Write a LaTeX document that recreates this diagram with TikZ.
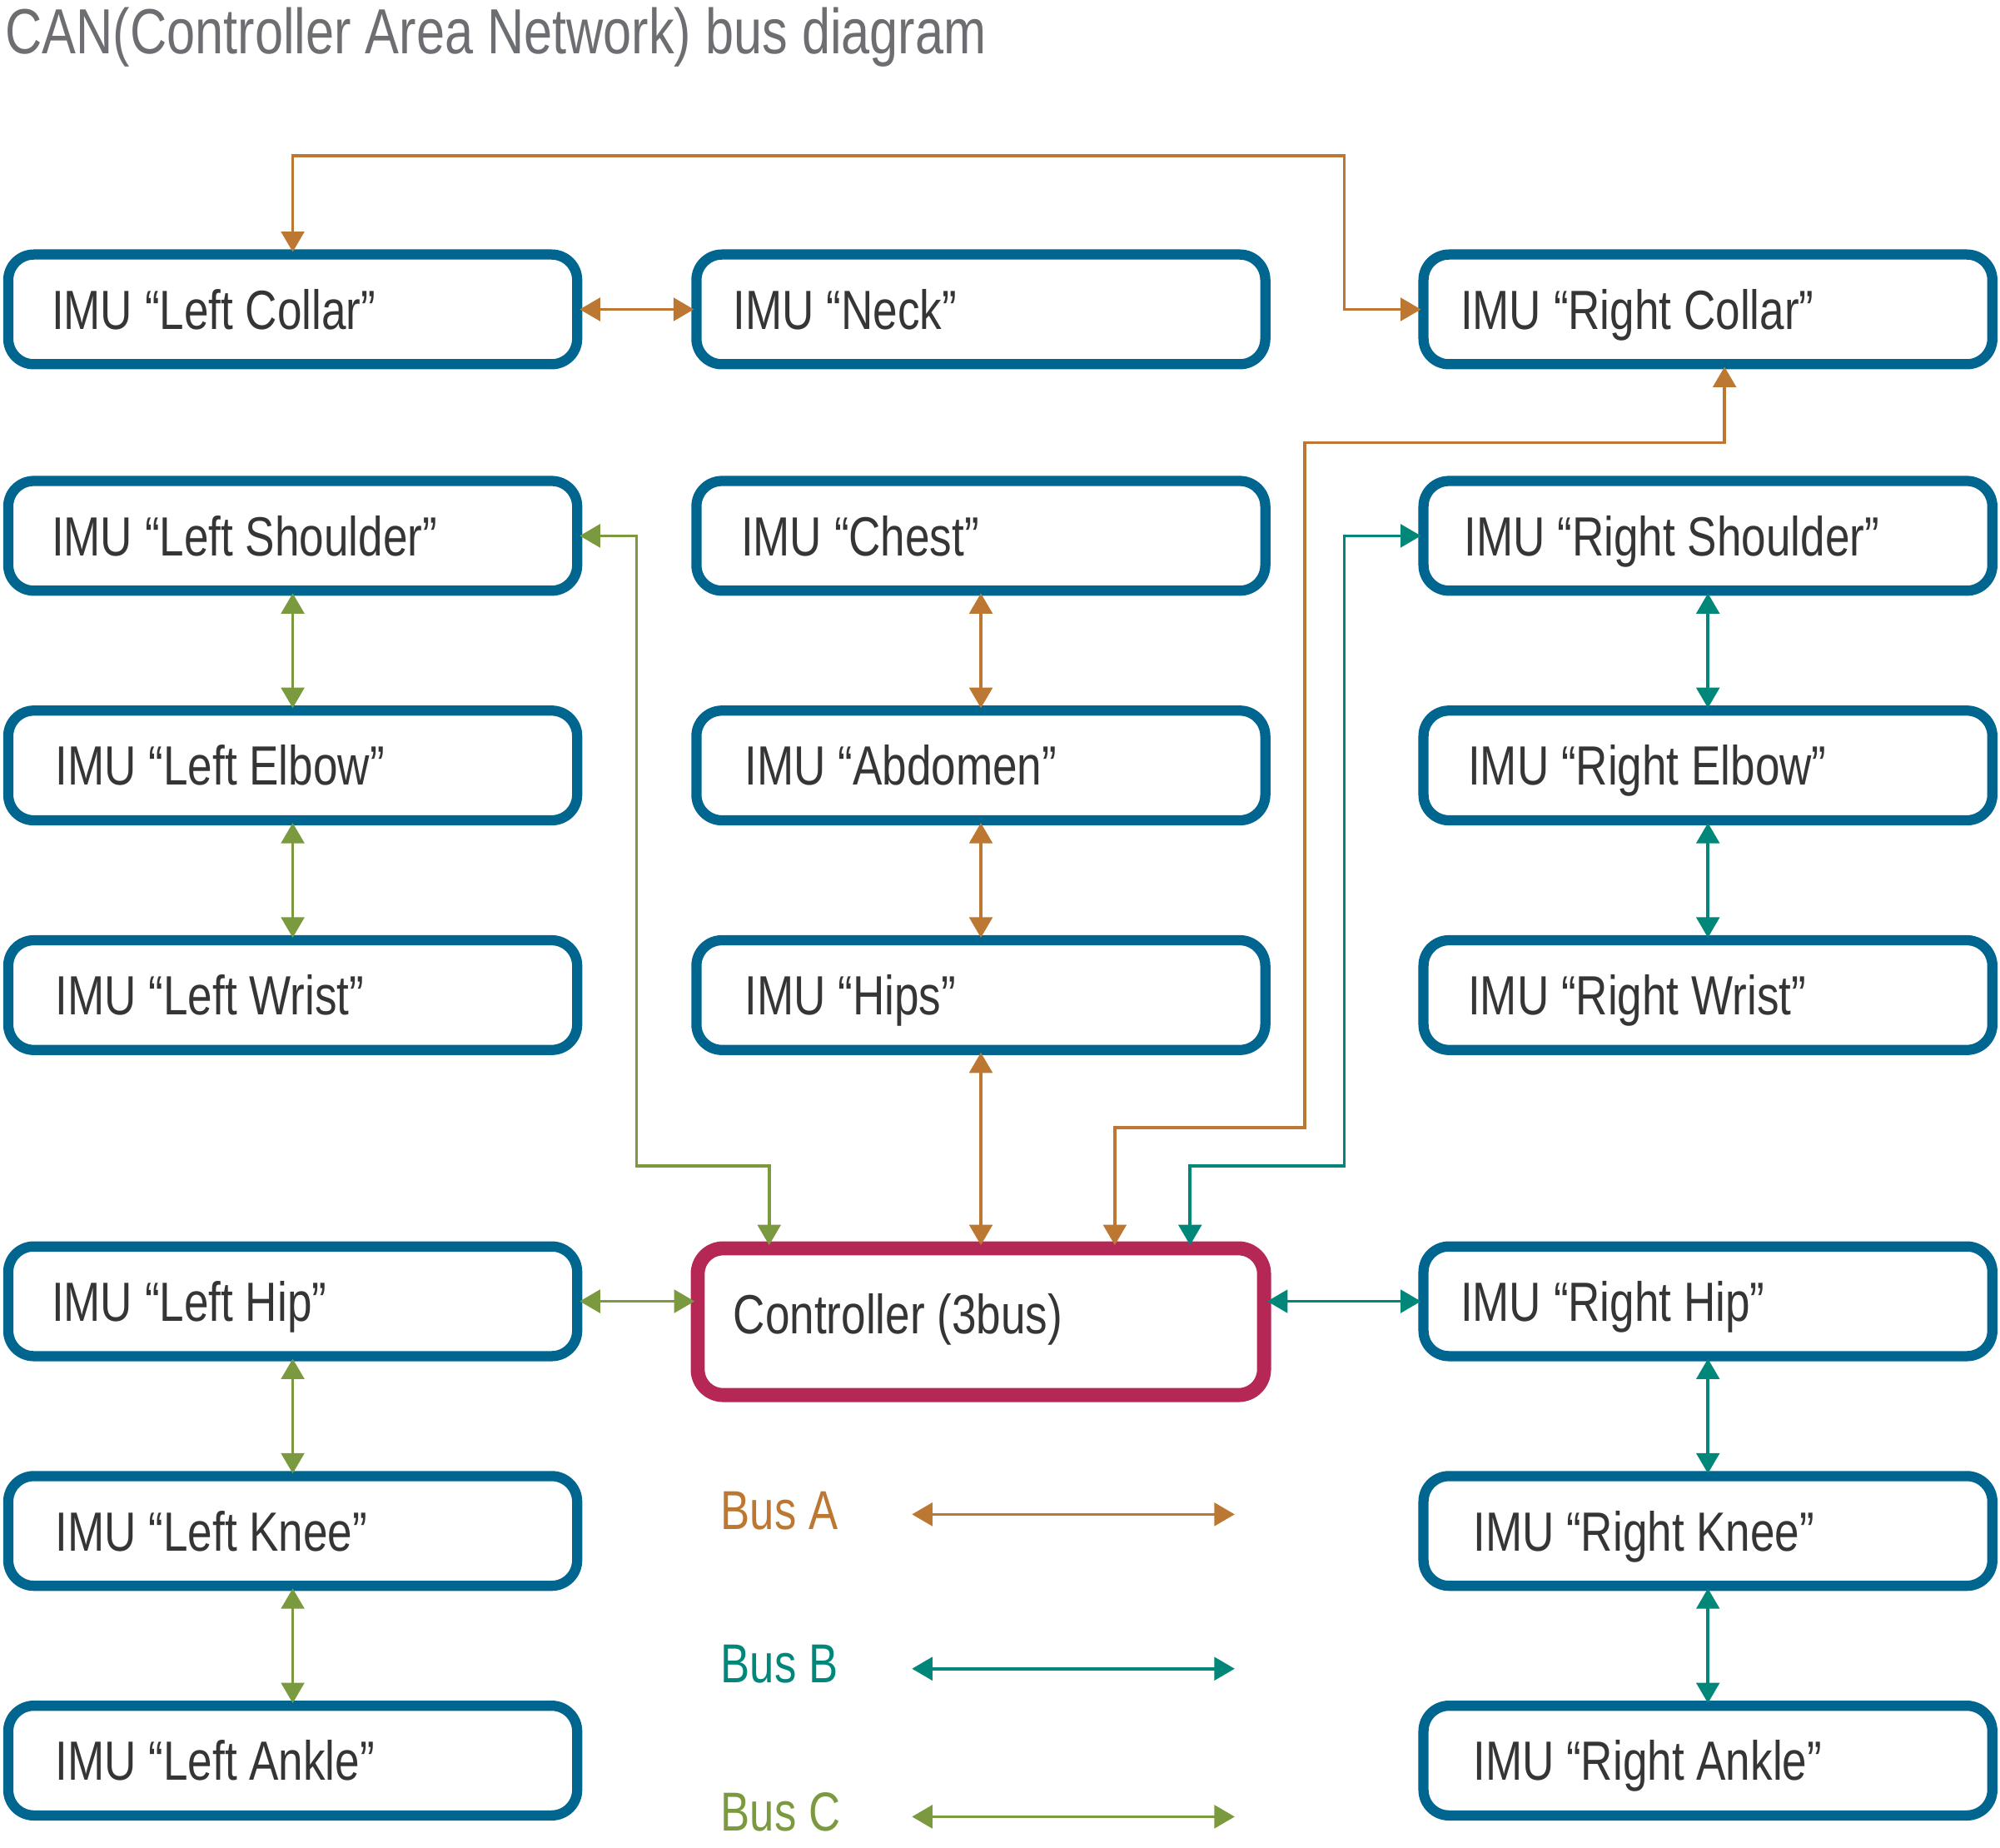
\documentclass[tikz,border=0pt]{standalone}
\usepackage{fontspec}
\setmainfont{Liberation Sans}[FakeStretch=0.8]
\usetikzlibrary{arrows.meta,calc}
\definecolor{boxblue}{HTML}{006690}
\definecolor{ctrlred}{HTML}{B52755}
\definecolor{busAcol}{HTML}{BC7832}
\definecolor{busBcol}{HTML}{00877A}
\definecolor{busCcol}{HTML}{7B993E}
\definecolor{textgray}{HTML}{353535}
\definecolor{titlegray}{HTML}{6D6E71}
\newcommand\ind[1]{\hspace*{#1pt}}
\begin{document}
\begin{tikzpicture}[x=1pt,y=-1pt,
  >={Triangle[length=16pt,width=18pt]},
  imu/.style={draw=boxblue, line width=8pt, rounded corners=20pt,
    minimum width=446pt, minimum height=86pt, text width=446pt,
    inner xsep=0pt, inner ysep=0pt, align=flush left, text height=31pt, text depth=0pt,
    outer sep=2pt, font=\fontsize{43.3pt}{50pt}\selectfont, text=textgray},
  ctrlbox/.style={imu, draw=ctrlred, line width=11pt, minimum width=444pt,
    text width=444pt, minimum height=115pt, text depth=12pt, outer sep=2.5pt},
  bus/.style={line width=2.4pt, <->},
  busA/.style={bus, draw=busAcol},
  busB/.style={bus, draw=busBcol},
  busC/.style={bus, draw=busCcol},
  legtext/.style={anchor=base west, inner sep=0pt, font=\fontsize{43pt}{50pt}\selectfont}
]
\useasboundingbox (0,0) rectangle (1568,1448);

\node[anchor=base west, inner sep=0pt, text=titlegray, font=\fontsize{50pt}{60pt}\selectfont] (title) at (4,42) {CAN(Controller Area Network) bus diagram};

% left column
\node[imu] (lc) at (229.5,242.5) {\ind{34}IMU “Left Collar”};
\node[imu] (ls) at (229.5,420) {\ind{34}IMU “Left Shoulder”};
\node[imu] (le) at (229.5,600) {\ind{37}IMU “Left Elbow”};
\node[imu] (lw) at (229.5,780) {\ind{37}IMU “Left Wrist”};
\node[imu] (lhip) at (229.5,1020) {\ind{34}IMU “Left Hip”};
\node[imu] (lknee) at (229.5,1200) {\ind{37}IMU “Left Knee”};
\node[imu] (lank) at (229.5,1380) {\ind{37}IMU “Left Ankle”};

% center column
\node[imu] (neck) at (769,242.5) {\ind{29}IMU “Neck”};
\node[imu] (chest) at (769,420) {\ind{35}IMU “Chest”};
\node[imu] (abd) at (769,600) {\ind{38}IMU “Abdomen”};
\node[imu] (hips) at (769,780) {\ind{38}IMU “Hips”};
\node[ctrlbox] (ctrl) at (769,1036) {\ind{28}Controller (3bus)};

% right column
\node[imu] (rc) at (1339,242.5) {\ind{29}IMU “Right Collar”};
\node[imu] (rs) at (1339,420) {\ind{32}IMU “Right Shoulder”};
\node[imu] (rel) at (1339,600) {\ind{35}IMU “Right Elbow”};
\node[imu] (rw) at (1339,780) {\ind{35}IMU “Right Wrist”};
\node[imu] (rhip) at (1339,1020) {\ind{29}IMU “Right Hip”};
\node[imu] (rknee) at (1339,1200) {\ind{39}IMU “Right Knee”};
\node[imu] (rank) at (1339,1380) {\ind{39}IMU “Right Ankle”};

% Bus A
\draw[busA] (lc.east) -- (neck.west);
\draw[busA] (lc.north) |- (1054,122) |- (rc.west);
\draw[busA] (chest.south) -- (abd.north);
\draw[busA] (abd.south) -- (hips.north);
\draw[busA] (hips.south) -- (ctrl.north);
\draw[busA] ([xshift=105pt]ctrl.north) |- (1023,884) |- (1352,347) -- ([xshift=13pt]rc.south);

% Bus C
\draw[busC] (ls.east) -| (499,914) -| ([xshift=-166pt]ctrl.north);
\draw[busC] (ls.south) -- (le.north);
\draw[busC] (le.south) -- (lw.north);
\draw[busC] (lhip.east) -- (lhip.east -| ctrl.west);
\draw[busC] (lhip.south) -- (lknee.north);
\draw[busC] (lknee.south) -- (lank.north);

% Bus B
\draw[busB] (rs.west) -| (1054,914) -| ([xshift=164pt]ctrl.north);
\draw[busB] (rs.south) -- (rel.north);
\draw[busB] (rel.south) -- (rw.north);
\draw[busB] (ctrl.east |- rhip.west) -- (rhip.west);
\draw[busB] (rhip.south) -- (rknee.north);
\draw[busB] (rknee.south) -- (rank.north);

% legend
\node[legtext, text=busAcol] (legA) at (565,1199) {Bus A};
\node[legtext, text=busBcol] (legB) at (565,1319) {Bus B};
\node[legtext, text=busCcol] (legC) at (565,1435) {Bus C};
\coordinate (aL) at (715,1187); \coordinate (aR) at (968,1187);
\coordinate (bL) at (715,1308); \coordinate (bR) at (968,1308);
\coordinate (cL) at (715,1424); \coordinate (cR) at (968,1424);
\draw[busA] (aL) -- (aR);
\draw[busB] (bL) -- (bR);
\draw[busC] (cL) -- (cR);
\end{tikzpicture}
\end{document}
